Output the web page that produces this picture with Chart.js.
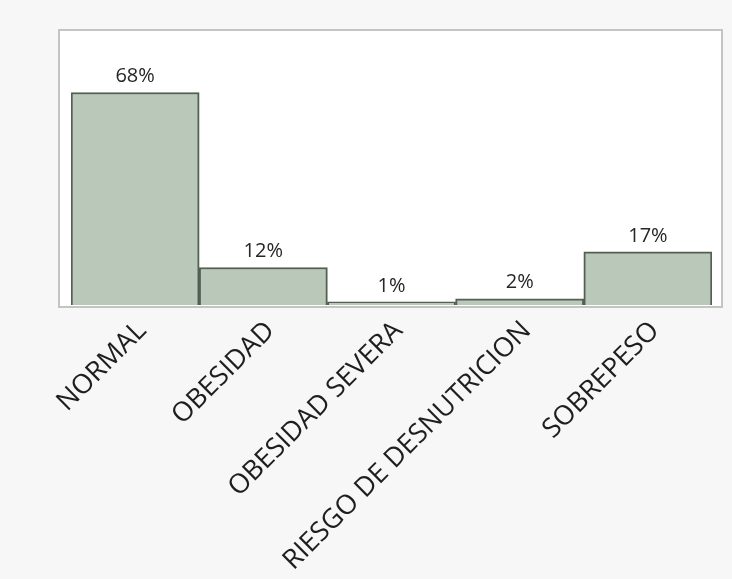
<!DOCTYPE html>
<html>
<head>
<meta charset="utf-8">
<script src="https://cdn.jsdelivr.net/npm/chart.js@4.4.1/dist/chart.umd.min.js"></script>
<style>
  html, body { margin: 0; padding: 0; background: #f7f7f7; }
  #wrap { width: 732px; height: 579px; }
</style>
</head>
<body>
<div id="wrap"><canvas id="estadoChart" width="732" height="579"></canvas></div>
<script>
const categorias = ['NORMAL', 'OBESIDAD', 'OBESIDAD SEVERA', 'RIESGO DE DESNUTRICION', 'SOBREPESO'];
const porcentajes = [68, 12, 1, 2, 17];
const etiquetas = ['68%', '12%', '1%', '2%', '17%'];

const ctx = document.getElementById('estadoChart');

// frame around the plot, a bit wider than the bars
const marco = {
    id: 'marco',
    beforeDraw(chart) {
        const a = chart.chartArea;
        const c = chart.ctx;
        c.save();
        c.fillStyle = '#ffffff';
        c.fillRect(a.left - 12, a.top, a.right - a.left + 22, a.bottom - a.top + 2);
        c.strokeStyle = '#c4c4c4';
        c.lineWidth = 2;
        c.strokeRect(a.left - 12, a.top, a.right - a.left + 22, a.bottom - a.top + 2);
        c.restore();
    }
};

// percent labels above each bar
const etiquetasBarras = {
    id: 'etiquetasBarras',
    afterDatasetsDraw(chart) {
        const c = chart.ctx;
        const meta = chart.getDatasetMeta(0);
        c.save();
        c.font = '20px "Open Sans", sans-serif';
        c.fillStyle = '#262626';
        c.textAlign = 'center';
        c.textBaseline = 'bottom';
        meta.data.forEach(function (bar, i) {
            c.fillText(etiquetas[i], bar.x, bar.y - 6);
        });
        c.restore();
    }
};

new Chart(ctx, {
    type: 'bar',
    data: {
        labels: categorias,
        datasets: [{
            data: porcentajes,
            backgroundColor: '#b9c8b9',
            borderColor: '#545f54',
            borderWidth: 2,
            barPercentage: 1,
            categoryPercentage: 1
        }]
    },
    options: {
        responsive: false,
        animation: false,
        layout: { padding: { left: 71, right: 20, top: 30, bottom: 0 } },
        plugins: {
            legend: { display: false },
            tooltip: { enabled: false }
        },
        scales: {
            x: {
                grid: { display: false },
                border: { display: false },
                ticks: {
                    color: '#1e1e1e',
                    font: { family: '"Open Sans", sans-serif', size: 27 },
                    minRotation: 45,
                    maxRotation: 45,
                    padding: 2,
                    labelOffset: 7
                },
                afterFit(scale) { scale.height = 274; }
            },
            y: {
                display: false,
                min: 0,
                max: 88
            }
        }
    },
    plugins: [marco, etiquetasBarras]
});
</script>
</body>
</html>
